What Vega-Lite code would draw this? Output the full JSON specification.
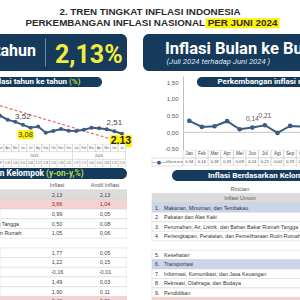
{
"$schema":"https://vega.github.io/schema/vega-lite/v6.json",
"padding":0,
"spacing":0,
"bounds":"full",
"config":{"view":{"stroke":null},"concat":{"spacing":0},"font":"Liberation Sans","locale":{"number":{"decimal":",","thousands":".","grouping":[3],"currency":["Rp",""],"minus":"-"}}},
"datasets":{
 "header":[{"line":"1","part":"title","text":"2. TREN TINGKAT INFLASI INDONESIA"},{"line":"2","part":"lead","text":"PERKEMBANGAN INFLASI NASIONAL"},{"line":"2","part":"date","text":"PER JUNI 2024"}],
 "kpiLeft":[{"part":"label","text":"Inflasi Tahun ke tahun"},{"part":"sep","text":""},{"part":"value","text":"2,13%"}],
 "kpiRight":[{"part":"title","text":"Inflasi Bulan ke Bulan"},{"part":"sub","text":"(Juli 2024 terhadap Juni 2024 )"}],
 "pills":[{"pill":"yoy","part":"main","text":"Perkembangan Inflasi tahun ke tahun"},{"pill":"yoy","part":"pct","text":"(%)"},{"pill":"grp","part":"main","text":"Inflasi Berdasarkan Kelompok"},{"pill":"grp","part":"pct","text":"(y-on-y,%)"},{"pill":"grpR","part":"main","text":"Inflasi Berdasarkan Kelompok Pengeluaran"},{"pill":"mtm","part":"main","text":"Perkembangan inflasi m-to-m"}],
 "yoy":[
  {"month":"2023-03","mon":"Mar","year":"2023","value":4.97},
  {"month":"2023-04","mon":"Apr","year":"2023","value":4.33},
  {"month":"2023-05","mon":"Mei","year":"2023","value":4.00},
  {"month":"2023-06","mon":"Jun","year":"2023","value":3.52},
  {"month":"2023-07","mon":"Jul","year":"2023","value":3.08},
  {"month":"2023-08","mon":"Agt","year":"2023","value":3.27},
  {"month":"2023-09","mon":"Sep","year":"2023","value":2.28},
  {"month":"2023-10","mon":"Okt","year":"2023","value":2.56},
  {"month":"2023-11","mon":"Nov","year":"2023","value":2.86},
  {"month":"2023-12","mon":"Des","year":"2023","value":2.61},
  {"month":"2024-01","mon":"Jan","year":"2024","value":2.57},
  {"month":"2024-02","mon":"Feb","year":"2024","value":2.75},
  {"month":"2024-03","mon":"Mar","year":"2024","value":3.05},
  {"month":"2024-04","mon":"Apr","year":"2024","value":3.00},
  {"month":"2024-05","mon":"Mei","year":"2024","value":2.84},
  {"month":"2024-06","mon":"Jun","year":"2024","value":2.51},
  {"month":"2024-07","mon":"Jul","year":"2024","value":2.13}],
 "trend":[{"month":"2023-03","value":6.55},{"month":"2024-07","value":0.76}],
 "mtm":[
  {"month":"Jan","value":0.34},{"month":"Feb","value":0.16},{"month":"Mar","value":0.18},{"month":"Apr","value":0.33},
  {"month":"Mei","value":0.09},{"month":"Jun","value":0.14},{"month":"Jul","value":0.21},{"month":"Agt","value":-0.02},
  {"month":"Sep","value":0.19},{"month":"Okt","value":0.17},{"month":"Nov","value":0.38},{"month":"Des","value":0.41}],
 "groups":[
  {"row":"umum","no":"","rincian":"Inflasi Umum","yoy":2.13,"andil":2.13},
  {"row":"g1","no":"1.","rincian":"Makanan, Minuman, dan Tembakau","yoy":3.66,"andil":1.04},
  {"row":"g2","no":"2.","rincian":"Pakaian dan Alas Kaki","yoy":0.99,"andil":0.05},
  {"row":"g3","no":"3.","rincian":"Perumahan, Air, Listrik, dan Bahan Bakar Rumah Tangga","yoy":0.50,"andil":0.08},
  {"row":"g4","no":"4.","rincian":"Perlengkapan, Peralatan, dan Pemeliharaan Rutin Rumah","yoy":1.05,"andil":0.06},
  {"row":"g5","no":"5.","rincian":"Kesehatan","yoy":1.77,"andil":0.05},
  {"row":"g6","no":"6.","rincian":"Transportasi","yoy":1.22,"andil":0.15},
  {"row":"g7","no":"7.","rincian":"Informasi, Komunikasi, dan Jasa Keuangan","yoy":-0.16,"andil":-0.01},
  {"row":"g8","no":"8.","rincian":"Rekreasi, Olahraga, dan Budaya","yoy":1.49,"andil":0.03},
  {"row":"g9","no":"9.","rincian":"Pendidikan","yoy":1.90,"andil":0.11},
  {"row":"g10","no":"10.","rincian":"Penyediaan Makanan dan Minuman/Restoran","yoy":2.46,"andil":0.21}],
 "cols":[{"col":"Rincian"},{"col":"Inflasi"},{"col":"Andil Inflasi"}],
 "legend":[{"part":"sym","text":"—●—"},{"part":"lbl","text":"Inflasi m-to-m"}],
 "box":[{"shape":"box"}]
},
"vconcat":[
 {
  "width":300,"height":30,
  "data":{"name":"header"},
  "layer":[
   {"transform":[{"filter":"datum.part === 'date'"}],
    "mark":{"type":"tick","orient":"horizontal","size":74,"thickness":10,"color":"#fff200","opacity":1},
    "encoding":{
     "x":{"field":"part","type":"nominal","scale":{"type":"point","domain":["lead","date"],"range":[205,242.5],"padding":0},"axis":null},
     "y":{"field":"line","type":"nominal","scale":{"type":"point","domain":["1","2"],"range":[11.5,23.3],"padding":0},"axis":null}}},
   {"transform":[{"filter":"datum.part === 'title'"}],
    "mark":{"type":"text","fontSize":9.8,"fontWeight":"bold","color":"#2b2b2b"},
    "encoding":{
     "y":{"field":"line","type":"nominal","scale":{"type":"point","domain":["1","2"],"range":[11.5,23.3],"padding":0},"axis":null},
     "text":{"field":"text"}}},
   {"transform":[{"filter":"datum.part === 'lead'"}],
    "mark":{"type":"text","align":"right","fontSize":9.8,"fontWeight":"bold","color":"#2b2b2b"},
    "encoding":{
     "x":{"field":"part","type":"nominal","scale":{"type":"point","domain":["lead","date"],"range":[205,242.5],"padding":0},"axis":null},
     "y":{"field":"line","type":"nominal","scale":{"type":"point","domain":["1","2"],"range":[11.5,23.3],"padding":0},"axis":null},
     "text":{"field":"text"}}},
   {"transform":[{"filter":"datum.part === 'date'"}],
    "mark":{"type":"text","align":"center","fontSize":9.8,"fontWeight":"bold","color":"#2b2b2b"},
    "encoding":{
     "x":{"field":"part","type":"nominal","scale":{"type":"point","domain":["lead","date"],"range":[205,242.5],"padding":0},"axis":null},
     "y":{"field":"line","type":"nominal","scale":{"type":"point","domain":["1","2"],"range":[11.5,23.3],"padding":0},"axis":null},
     "text":{"field":"text"}}}
  ]
 },
 {"hconcat":[
  {"vconcat":[
    {"width":143,"height":4,"data":{"values":[]},"mark":"point"},
    {"width":127,"height":37,
     "resolve":{"scale":{"x":"independent"}},
     "layer":[
      {"data":{"name":"box"},
       "mark":{"type":"rect","fill":"#163a5c","cornerRadius":6,"clip":true},
       "encoding":{"x":{"field":"shape","type":"nominal","scale":{"type":"band","domain":["box"],"range":[-10,127],"paddingInner":0,"paddingOuter":0},"axis":null}}},
      {"data":{"name":"kpiLeft"},"transform":[{"filter":"datum.part === 'label'"}],
       "mark":{"type":"text","align":"right","font":"Roboto","fontWeight":"bold","fontSize":16,"color":"#ffffff","dy":-2,"clip":true},
       "encoding":{"x":{"field":"part","type":"nominal","scale":{"type":"point","domain":["label","sep","value"],"range":[36,55],"padding":0},"axis":null},"text":{"field":"text"}}},
      {"data":{"name":"kpiLeft"},"transform":[{"filter":"datum.part === 'sep'"}],
       "mark":{"type":"tick","orient":"vertical","size":28,"thickness":1,"color":"#6d8aa6","opacity":1},
       "encoding":{"x":{"field":"part","type":"nominal","scale":{"type":"point","domain":["label","sep","value"],"range":[36,55],"padding":0},"axis":null}}},
      {"data":{"name":"kpiLeft"},"transform":[{"filter":"datum.part === 'value'"}],
       "mark":{"type":"text","align":"left","font":"Roboto","fontWeight":"bold","fontSize":25,"color":"#f0ee3c","dy":2},
       "encoding":{"x":{"field":"part","type":"nominal","scale":{"type":"point","domain":["label","sep","value"],"range":[36,55],"padding":0},"axis":null},"text":{"field":"text"}}}
     ]},
    {"width":10,"height":6,"data":{"values":[]},"mark":"point"},
    {"width":102,"height":10,
     "resolve":{"scale":{"x":"independent"}},
     "layer":[
      {"data":{"name":"box"},
       "mark":{"type":"rect","fill":"#163a5c","cornerRadius":5,"clip":true},
       "encoding":{"x":{"field":"shape","type":"nominal","scale":{"type":"band","domain":["box"],"range":[-10,102],"paddingInner":0,"paddingOuter":0},"axis":null}}},
      {"data":{"name":"pills"},"transform":[{"filter":"datum.pill === 'yoy' && datum.part === 'main'"}],
       "mark":{"type":"text","align":"right","font":"Roboto","fontWeight":"bold","fontSize":8,"color":"#ffffff","clip":true},
       "encoding":{"x":{"field":"part","type":"nominal","scale":{"type":"point","domain":["main","pct"],"range":[67,69],"padding":0},"axis":null},"text":{"field":"text"}}},
      {"data":{"name":"pills"},"transform":[{"filter":"datum.pill === 'yoy' && datum.part === 'pct'"}],
       "mark":{"type":"text","align":"left","font":"Roboto","fontWeight":"bold","fontSize":8,"color":"#b5dc4a"},
       "encoding":{"x":{"field":"part","type":"nominal","scale":{"type":"point","domain":["main","pct"],"range":[67,69],"padding":0},"axis":null},"text":{"field":"text"}}}
     ]},
    {"width":127,"height":57,
     "encoding":{
      "x":{"field":"month","type":"ordinal","scale":{"type":"band","domain":["2023-03","2023-04","2023-05","2023-06","2023-07","2023-08","2023-09","2023-10","2023-11","2023-12","2024-01","2024-02","2024-03","2024-04","2024-05","2024-06","2024-07"],"range":[-3.8,125.8],"paddingInner":0,"paddingOuter":0},"axis":null},
      "y":{"field":"value","type":"quantitative","scale":{"domain":[0.5,9.5],"nice":false,"zero":false},"axis":null}},
     "layer":[
      {"data":{"name":"trend"},"mark":{"type":"line","color":"#e06f6a","strokeWidth":1.2,"strokeDash":[3,2],"clip":true}},
      {"data":{"name":"yoy"},"mark":{"type":"line","color":"#3d5b83","strokeWidth":2,"clip":true}},
      {"data":{"name":"yoy"},"mark":{"type":"circle","color":"#3d5b83","size":16,"opacity":1,"clip":true}},
      {"data":{"name":"yoy"},"transform":[{"filter":"datum.month === '2023-07'"}],
       "mark":{"type":"tick","orient":"horizontal","size":16,"thickness":9,"color":"#fff200","opacity":1,"xOffset":-5,"yOffset":7}},
      {"data":{"name":"yoy"},"transform":[{"filter":"datum.month === '2024-07'"}],
       "mark":{"type":"tick","orient":"horizontal","size":22,"thickness":12,"color":"#fff200","opacity":1,"xOffset":-1,"yOffset":7.5}},
      {"data":{"name":"yoy"},"transform":[{"filter":"datum.month === '2023-06' || datum.month === '2024-06'"}],
       "mark":{"type":"text","fontSize":8,"color":"#444444","dy":-8},
       "encoding":{"text":{"field":"value","type":"quantitative","format":".2f"}}},
      {"data":{"name":"yoy"},"transform":[{"filter":"datum.month === '2023-07'"}],
       "mark":{"type":"text","fontSize":7.5,"color":"#333333","dy":7,"dx":-5},
       "encoding":{"text":{"field":"value","type":"quantitative","format":".2f"}}},
      {"data":{"name":"yoy"},"transform":[{"filter":"datum.month === '2024-07'"}],
       "mark":{"type":"text","fontSize":10.5,"fontWeight":"bold","color":"#222222","dy":7.5,"dx":-1},
       "encoding":{"text":{"field":"value","type":"quantitative","format":".2f"}}}
     ]},
    {"width":127,"height":23,
     "data":{"name":"yoy"},
     "encoding":{
      "x":{"field":"month","type":"ordinal","scale":{"type":"band","domain":["2023-03","2023-04","2023-05","2023-06","2023-07","2023-08","2023-09","2023-10","2023-11","2023-12","2024-01","2024-02","2024-03","2024-04","2024-05","2024-06","2024-07"],"range":[-3.8,125.8],"paddingInner":0,"paddingOuter":0},"axis":null}},
     "layer":[
      {"mark":{"type":"rect","fill":"#ffffff","stroke":"#b3b3b3","strokeWidth":0.4,"clip":true},
       "encoding":{"y":{"datum":"m","type":"nominal","scale":{"type":"band","domain":["m","y","v"],"paddingInner":0,"paddingOuter":0},"axis":null}}},
      {"mark":{"type":"rect","fill":"#ffffff","stroke":"#b3b3b3","strokeWidth":0.4,"clip":true},
       "encoding":{"y":{"datum":"v","type":"nominal","scale":{"type":"band","domain":["m","y","v"],"paddingInner":0,"paddingOuter":0},"axis":null}}},
      {"transform":[{"filter":"datum.month === '2024-01'"}],
       "mark":{"type":"tick","orient":"vertical","size":7.7,"thickness":0.4,"color":"#b3b3b3","opacity":1},
       "encoding":{"x":{"field":"month","type":"ordinal","bandPosition":0},"y":{"datum":"y","type":"nominal","scale":{"type":"band","domain":["m","y","v"],"paddingInner":0,"paddingOuter":0},"axis":null}}},
      {"transform":[{"filter":"datum.month === '2024-07'"}],
       "mark":{"type":"tick","orient":"vertical","size":7.7,"thickness":0.4,"color":"#b3b3b3","opacity":1},
       "encoding":{"x":{"field":"month","type":"ordinal","bandPosition":1},"y":{"datum":"y","type":"nominal","scale":{"type":"band","domain":["m","y","v"],"paddingInner":0,"paddingOuter":0},"axis":null}}},
      {"mark":{"type":"text","fontSize":2.8,"color":"#555555","clip":true},
       "encoding":{"y":{"datum":"m","type":"nominal","scale":{"type":"band","domain":["m","y","v"],"paddingInner":0,"paddingOuter":0},"axis":null},"text":{"field":"mon"}}},
      {"transform":[{"filter":"datum.month === '2023-07'"}],
       "mark":{"type":"text","fontSize":3.6,"color":"#555555"},
       "encoding":{"x":{"field":"month","type":"ordinal","bandPosition":1},"y":{"datum":"y","type":"nominal","scale":{"type":"band","domain":["m","y","v"],"paddingInner":0,"paddingOuter":0},"axis":null},"text":{"field":"year"}}},
      {"transform":[{"filter":"datum.month === '2024-04'"}],
       "mark":{"type":"text","fontSize":3.6,"color":"#555555"},
       "encoding":{"y":{"datum":"y","type":"nominal","scale":{"type":"band","domain":["m","y","v"],"paddingInner":0,"paddingOuter":0},"axis":null},"text":{"field":"year"}}},
      {"mark":{"type":"text","fontSize":2.6,"color":"#555555","clip":true},
       "encoding":{"y":{"datum":"v","type":"nominal","scale":{"type":"band","domain":["m","y","v"],"paddingInner":0,"paddingOuter":0},"axis":null},"text":{"field":"value","type":"quantitative","format":".2f"}}}
     ]},
    {"width":10,"height":1,"data":{"values":[]},"mark":"point"},
    {"width":127,"height":11,
     "resolve":{"scale":{"x":"independent"}},
     "layer":[
      {"data":{"name":"box"},
       "mark":{"type":"rect","fill":"#163a5c","cornerRadius":5.5,"clip":true},
       "encoding":{"x":{"field":"shape","type":"nominal","scale":{"type":"band","domain":["box"],"range":[-10,127],"paddingInner":0,"paddingOuter":0},"axis":null}}},
      {"data":{"name":"pills"},"transform":[{"filter":"datum.pill === 'grp' && datum.part === 'main'"}],
       "mark":{"type":"text","align":"right","font":"Roboto","fontWeight":"bold","fontSize":8.3,"color":"#ffffff","clip":true},
       "encoding":{"x":{"field":"part","type":"nominal","scale":{"type":"point","domain":["main","pct"],"range":[44,46],"padding":0},"axis":null},"text":{"field":"text"}}},
      {"data":{"name":"pills"},"transform":[{"filter":"datum.pill === 'grp' && datum.part === 'pct'"}],
       "mark":{"type":"text","align":"left","font":"Roboto","fontWeight":"bold","fontSize":8.3,"color":"#b5dc4a"},
       "encoding":{"x":{"field":"part","type":"nominal","scale":{"type":"point","domain":["main","pct"],"range":[44,46],"padding":0},"axis":null},"text":{"field":"text"}}}
     ]},
    {"width":10,"height":1,"data":{"values":[]},"mark":"point"},
    {"width":127,"height":120,
     "resolve":{"scale":{"x":"independent"}},
     "layer":[
      {"data":{"name":"groups"},
       "mark":{"type":"rect","stroke":"#d0d0d0","strokeWidth":0.5,"clip":true},
       "encoding":{
        "y":{"field":"row","type":"nominal","scale":{"type":"band","domain":["hdr","umum","g1","g2","g3","g4","g4b","g5","g6","g7","g8","g9","g10"],"range":[0,126.1],"paddingInner":0,"paddingOuter":0},"axis":null},
        "fill":{"condition":[{"test":"datum.row === 'umum'","value":"#dcdcdc"},{"test":"datum.row === 'g1' || datum.row === 'g10'","value":"#f6d3d3"}],"value":"#ffffff"}}},
      {"data":{"name":"groups"},"transform":[{"filter":"datum.row !== 'umum'"}],
       "mark":{"type":"text","align":"left","fontSize":5.25,"color":"#333333","clip":true},
       "encoding":{
        "y":{"field":"row","type":"nominal","scale":{"type":"band","domain":["hdr","umum","g1","g2","g3","g4","g4b","g5","g6","g7","g8","g9","g10"],"range":[0,126.1],"paddingInner":0,"paddingOuter":0},"axis":null},
        "x":{"datum":"Rincian","type":"nominal","scale":{"type":"point","domain":["Rincian"],"range":[-114,-114],"padding":0},"axis":null},
        "text":{"field":"rincian"}}},
      {"data":{"name":"cols"},"transform":[{"filter":"datum.col !== 'Rincian'"}],
       "mark":{"type":"text","fontSize":5.6,"color":"#555555"},
       "encoding":{
        "y":{"datum":"hdr","type":"nominal","scale":{"type":"band","domain":["hdr","umum","g1","g2","g3","g4","g4b","g5","g6","g7","g8","g9","g10"],"range":[0,126.1],"paddingInner":0,"paddingOuter":0},"axis":null},
        "x":{"field":"col","type":"nominal","scale":{"type":"point","domain":["Inflasi","Andil Inflasi"],"range":[57,105],"padding":0},"axis":null},
        "text":{"field":"col"}}},
      {"data":{"name":"groups"},
       "mark":{"type":"text","fontSize":5.5,"clip":true},
       "encoding":{
        "y":{"field":"row","type":"nominal","scale":{"type":"band","domain":["hdr","umum","g1","g2","g3","g4","g4b","g5","g6","g7","g8","g9","g10"],"range":[0,126.1],"paddingInner":0,"paddingOuter":0},"axis":null},
        "x":{"datum":"Inflasi","type":"nominal","scale":{"type":"point","domain":["Inflasi","Andil Inflasi"],"range":[57,105],"padding":0},"axis":null},
        "text":{"field":"yoy","type":"quantitative","format":".2f"},
        "color":{"condition":{"test":"datum.row === 'g1'","value":"#8b2525"},"value":"#444444"}}},
      {"data":{"name":"groups"},
       "mark":{"type":"text","fontSize":5.5,"clip":true},
       "encoding":{
        "y":{"field":"row","type":"nominal","scale":{"type":"band","domain":["hdr","umum","g1","g2","g3","g4","g4b","g5","g6","g7","g8","g9","g10"],"range":[0,126.1],"paddingInner":0,"paddingOuter":0},"axis":null},
        "x":{"datum":"Andil Inflasi","type":"nominal","scale":{"type":"point","domain":["Inflasi","Andil Inflasi"],"range":[57,105],"padding":0},"axis":null},
        "text":{"field":"andil","type":"quantitative","format":".2f"},
        "color":{"condition":{"test":"datum.row === 'g1'","value":"#8b2525"},"value":"#444444"}}}
     ]}
  ],"spacing":0,"bounds":"flush"},
  {"vconcat":[
    {"width":157,"height":4,"data":{"values":[]},"mark":"point"},
    {"width":157,"height":37,
     "resolve":{"scale":{"x":"independent"}},
     "layer":[
      {"data":{"name":"box"},
       "mark":{"type":"rect","fill":"#163a5c","cornerRadius":6,"clip":true},
       "encoding":{"x":{"field":"shape","type":"nominal","scale":{"type":"band","domain":["box"],"range":[0,170],"paddingInner":0,"paddingOuter":0},"axis":null}}},
      {"data":{"name":"kpiRight"},"transform":[{"filter":"datum.part === 'title'"}],
       "mark":{"type":"text","align":"left","font":"Roboto","fontWeight":"bold","fontSize":16.5,"color":"#ffffff","clip":true},
       "encoding":{
        "x":{"field":"part","type":"nominal","scale":{"type":"point","domain":["title","sub"],"range":[22,23.5],"padding":0},"axis":null},
        "y":{"field":"part","type":"nominal","scale":{"type":"point","domain":["title","sub"],"range":[15,28],"padding":0},"axis":null},
        "text":{"field":"text"}}},
      {"data":{"name":"kpiRight"},"transform":[{"filter":"datum.part === 'sub'"}],
       "mark":{"type":"text","align":"left","font":"Roboto","fontStyle":"italic","fontSize":7.7,"color":"#dfe6ef","clip":true},
       "encoding":{
        "x":{"field":"part","type":"nominal","scale":{"type":"point","domain":["title","sub"],"range":[22,23.5],"padding":0},"axis":null},
        "y":{"field":"part","type":"nominal","scale":{"type":"point","domain":["title","sub"],"range":[15,28],"padding":0},"axis":null},
        "text":{"field":"text"}}}
     ]},
    {"width":10,"height":5,"data":{"values":[]},"mark":"point"},
    {"width":157,"height":74,
     "layer":[
      {"data":{"name":"box"},
       "mark":{"type":"rule","color":"#c4c4c4","strokeWidth":1,"clip":true},
       "encoding":{
        "x":{"datum":"Jan","type":"ordinal","bandPosition":0,"scale":{"type":"band","domain":["Jan","Feb","Mar","Apr","Mei","Jun","Jul","Agt","Sep","Okt","Nov","Des"],"range":[40,191.2],"paddingInner":0,"paddingOuter":0},"axis":null},
        "x2":{"datum":"Des"},
        "y":{"datum":0,"type":"quantitative","scale":{"domain":[-0.53,1.68],"nice":false,"zero":false},"axis":{"values":[-0.5,0,0.5,1,1.5],"format":".2f","offset":-40,"ticks":false,"grid":false,"domain":true,"domainColor":"#bdbdbd","labelFont":"Liberation Sans","labelFontSize":6,"labelColor":"#555555","labelPadding":5,"labelFlush":false,"labelBound":false,"title":null}}}},
      {"data":{"name":"box"},
       "mark":{"type":"rule","color":"#163a5c","strokeWidth":10,"strokeCap":"round","clip":true},
       "encoding":{
        "x":{"datum":"Feb","type":"ordinal","scale":{"type":"band","domain":["Jan","Feb","Mar","Apr","Mei","Jun","Jul","Agt","Sep","Okt","Nov","Des"],"range":[40,191.2],"paddingInner":0,"paddingOuter":0},"axis":null},
        "x2":{"datum":"Des"},
        "y":{"datum":1.5,"type":"quantitative","scale":{"domain":[-0.53,1.68],"nice":false,"zero":false},"axis":{"values":[-0.5,0,0.5,1,1.5],"format":".2f","offset":-40,"ticks":false,"grid":false,"domain":true,"domainColor":"#bdbdbd","labelFont":"Liberation Sans","labelFontSize":6,"labelColor":"#555555","labelPadding":5,"labelFlush":false,"labelBound":false,"title":null}}}},
      {"data":{"name":"pills"},"transform":[{"filter":"datum.pill === 'mtm'"}],
       "mark":{"type":"text","align":"left","font":"Roboto","fontWeight":"bold","fontSize":8,"color":"#ffffff","dx":3,"clip":true},
       "encoding":{
        "x":{"datum":"Mar","type":"ordinal","scale":{"type":"band","domain":["Jan","Feb","Mar","Apr","Mei","Jun","Jul","Agt","Sep","Okt","Nov","Des"],"range":[40,191.2],"paddingInner":0,"paddingOuter":0},"axis":null},
        "y":{"datum":1.5,"type":"quantitative","scale":{"domain":[-0.53,1.68],"nice":false,"zero":false},"axis":{"values":[-0.5,0,0.5,1,1.5],"format":".2f","offset":-40,"ticks":false,"grid":false,"domain":true,"domainColor":"#bdbdbd","labelFont":"Liberation Sans","labelFontSize":6,"labelColor":"#555555","labelPadding":5,"labelFlush":false,"labelBound":false,"title":null}},
        "text":{"field":"text"}}},
      {"data":{"name":"mtm"},
       "encoding":{
        "x":{"field":"month","type":"ordinal","scale":{"type":"band","domain":["Jan","Feb","Mar","Apr","Mei","Jun","Jul","Agt","Sep","Okt","Nov","Des"],"range":[40,191.2],"paddingInner":0,"paddingOuter":0},"axis":null},
        "y":{"field":"value","type":"quantitative","scale":{"domain":[-0.53,1.68],"nice":false,"zero":false},"axis":{"values":[-0.5,0,0.5,1,1.5],"format":".2f","offset":-40,"ticks":false,"grid":false,"domain":true,"domainColor":"#bdbdbd","labelFont":"Liberation Sans","labelFontSize":6,"labelColor":"#555555","labelPadding":5,"labelFlush":false,"labelBound":false,"title":null}}},
       "layer":[
        {"mark":{"type":"line","color":"#3d5b83","strokeWidth":2,"clip":true}},
        {"mark":{"type":"circle","color":"#3d5b83","size":22,"opacity":1,"clip":true}},
        {"transform":[{"filter":"datum.month === 'Jun' || datum.month === 'Jul'"}],
         "mark":{"type":"text","fontSize":6.5,"color":"#555555","dy":-9},
         "encoding":{"text":{"field":"value","type":"quantitative","format":".2f"}}}
       ]}
     ]},
    {"width":157,"height":16,
     "resolve":{"scale":{"x":"independent"}},
     "layer":[
      {"data":{"name":"box"},
       "mark":{"type":"rect","fill":"#ffffff","stroke":"#b5b5b5","strokeWidth":0.4},
       "encoding":{
        "x":{"field":"shape","type":"nominal","scale":{"type":"band","domain":["box"],"range":[9,40],"paddingInner":0,"paddingOuter":0},"axis":null},
        "y":{"datum":"v","type":"nominal","scale":{"type":"band","domain":["m","v"],"paddingInner":0,"paddingOuter":0},"axis":null}}},
      {"data":{"name":"legend"},"transform":[{"filter":"datum.part === 'sym'"}],
       "mark":{"type":"text","fontSize":5,"color":"#3d5b83","font":"DejaVu Sans"},
       "encoding":{
        "x":{"field":"part","type":"nominal","scale":{"type":"point","domain":["sym","lbl"],"range":[16,23],"padding":0},"axis":null},
        "y":{"datum":"v","type":"nominal","scale":{"type":"band","domain":["m","v"],"paddingInner":0,"paddingOuter":0},"axis":null},
        "text":{"field":"text"}}},
      {"data":{"name":"legend"},"transform":[{"filter":"datum.part === 'lbl'"}],
       "mark":{"type":"text","align":"left","fontSize":2.8,"color":"#444444"},
       "encoding":{
        "x":{"field":"part","type":"nominal","scale":{"type":"point","domain":["sym","lbl"],"range":[16,23],"padding":0},"axis":null},
        "y":{"datum":"v","type":"nominal","scale":{"type":"band","domain":["m","v"],"paddingInner":0,"paddingOuter":0},"axis":null},
        "text":{"field":"text"}}},
      {"data":{"name":"mtm"},
       "mark":{"type":"rect","fill":"#ffffff","stroke":"#b5b5b5","strokeWidth":0.4,"clip":true},
       "encoding":{
        "x":{"field":"month","type":"ordinal","scale":{"type":"band","domain":["Jan","Feb","Mar","Apr","Mei","Jun","Jul","Agt","Sep","Okt","Nov","Des"],"range":[40,191.2],"paddingInner":0,"paddingOuter":0},"axis":null},
        "y":{"datum":"m","type":"nominal","scale":{"type":"band","domain":["m","v"],"paddingInner":0,"paddingOuter":0},"axis":null}}},
      {"data":{"name":"mtm"},
       "mark":{"type":"rect","fill":"#ffffff","stroke":"#b5b5b5","strokeWidth":0.4,"clip":true},
       "encoding":{
        "x":{"field":"month","type":"ordinal","scale":{"type":"band","domain":["Jan","Feb","Mar","Apr","Mei","Jun","Jul","Agt","Sep","Okt","Nov","Des"],"range":[40,191.2],"paddingInner":0,"paddingOuter":0},"axis":null},
        "y":{"datum":"v","type":"nominal","scale":{"type":"band","domain":["m","v"],"paddingInner":0,"paddingOuter":0},"axis":null}}},
      {"data":{"name":"mtm"},
       "mark":{"type":"text","fontSize":4.6,"color":"#444444","clip":true},
       "encoding":{
        "x":{"field":"month","type":"ordinal","scale":{"type":"band","domain":["Jan","Feb","Mar","Apr","Mei","Jun","Jul","Agt","Sep","Okt","Nov","Des"],"range":[40,191.2],"paddingInner":0,"paddingOuter":0},"axis":null},
        "y":{"datum":"m","type":"nominal","scale":{"type":"band","domain":["m","v"],"paddingInner":0,"paddingOuter":0},"axis":null},
        "text":{"field":"month"}}},
      {"data":{"name":"mtm"},
       "mark":{"type":"text","fontSize":4.2,"color":"#444444","clip":true},
       "encoding":{
        "x":{"field":"month","type":"ordinal","scale":{"type":"band","domain":["Jan","Feb","Mar","Apr","Mei","Jun","Jul","Agt","Sep","Okt","Nov","Des"],"range":[40,191.2],"paddingInner":0,"paddingOuter":0},"axis":null},
        "y":{"datum":"v","type":"nominal","scale":{"type":"band","domain":["m","v"],"paddingInner":0,"paddingOuter":0},"axis":null},
        "text":{"field":"value","type":"quantitative","format":".2f"}}}
     ]},
    {"width":10,"height":4,"data":{"values":[]},"mark":"point"},
    {"width":157,"height":11,
     "resolve":{"scale":{"x":"independent"}},
     "layer":[
      {"data":{"name":"box"},
       "mark":{"type":"rect","fill":"#163a5c","cornerRadius":5.5,"clip":true},
       "encoding":{"x":{"field":"shape","type":"nominal","scale":{"type":"band","domain":["box"],"range":[29,200],"paddingInner":0,"paddingOuter":0},"axis":null}}},
      {"data":{"name":"pills"},"transform":[{"filter":"datum.pill === 'grpR'"}],
       "mark":{"type":"text","align":"left","font":"Roboto","fontWeight":"bold","fontSize":8,"color":"#ffffff","clip":true},
       "encoding":{"x":{"field":"part","type":"nominal","scale":{"type":"point","domain":["main"],"range":[65,65],"padding":0},"axis":null},"text":{"field":"text"}}}
     ]},
    {"width":10,"height":3,"data":{"values":[]},"mark":"point"},
    {"width":157,"height":116,
     "resolve":{"scale":{"x":"independent"}},
     "layer":[
      {"data":{"name":"groups"},
       "mark":{"type":"rect","stroke":"#d0d0d0","strokeWidth":0.5,"clip":true},
       "encoding":{
        "x":{"datum":"tbl","type":"nominal","scale":{"type":"band","domain":["tbl"],"range":[9,160],"paddingInner":0,"paddingOuter":0},"axis":null},
        "y":{"field":"row","type":"nominal","scale":{"type":"band","domain":["hdr","umum","g1","g2","g3","g4","g4b","g5","g6","g7","g8","g9","g10"],"range":[0,122.85],"paddingInner":0,"paddingOuter":0},"axis":null},
        "fill":{"condition":[{"test":"datum.row === 'umum'","value":"#dcdcdc"},{"test":"datum.row === 'g1' || datum.row === 'g6'","value":"#c9d5ea"},{"test":"datum.row === 'g10'","value":"#f6d3d3"}],"value":"#ffffff"}}},
      {"data":{"name":"cols"},"transform":[{"filter":"datum.col === 'Rincian'"}],
       "mark":{"type":"text","fontSize":5.6,"color":"#555555"},
       "encoding":{
        "y":{"datum":"hdr","type":"nominal","scale":{"type":"band","domain":["hdr","umum","g1","g2","g3","g4","g4b","g5","g6","g7","g8","g9","g10"],"range":[0,122.85],"paddingInner":0,"paddingOuter":0},"axis":null},
        "x":{"datum":"center","type":"nominal","scale":{"type":"point","domain":["center"],"range":[97,97],"padding":0},"axis":null},
        "text":{"field":"col"}}},
      {"data":{"name":"groups"},"transform":[{"filter":"datum.row === 'umum'"}],
       "mark":{"type":"text","fontSize":5.4,"color":"#555555"},
       "encoding":{
        "y":{"field":"row","type":"nominal","scale":{"type":"band","domain":["hdr","umum","g1","g2","g3","g4","g4b","g5","g6","g7","g8","g9","g10"],"range":[0,122.85],"paddingInner":0,"paddingOuter":0},"axis":null},
        "x":{"datum":"center","type":"nominal","scale":{"type":"point","domain":["center"],"range":[97,97],"padding":0},"axis":null},
        "text":{"field":"rincian"}}},
      {"data":{"name":"groups"},"transform":[{"filter":"datum.row !== 'umum'"}],
       "mark":{"type":"text","align":"left","fontSize":5.3,"color":"#333333","clip":true},
       "encoding":{
        "y":{"field":"row","type":"nominal","scale":{"type":"band","domain":["hdr","umum","g1","g2","g3","g4","g4b","g5","g6","g7","g8","g9","g10"],"range":[0,122.85],"paddingInner":0,"paddingOuter":0},"axis":null},
        "x":{"datum":"no","type":"nominal","scale":{"type":"point","domain":["no","rincian"],"range":[12,21],"padding":0},"axis":null},
        "text":{"field":"no"}}},
      {"data":{"name":"groups"},"transform":[{"filter":"datum.row !== 'umum'"}],
       "mark":{"type":"text","align":"left","fontSize":5.3,"color":"#333333","clip":true},
       "encoding":{
        "y":{"field":"row","type":"nominal","scale":{"type":"band","domain":["hdr","umum","g1","g2","g3","g4","g4b","g5","g6","g7","g8","g9","g10"],"range":[0,122.85],"paddingInner":0,"paddingOuter":0},"axis":null},
        "x":{"datum":"rincian","type":"nominal","scale":{"type":"point","domain":["no","rincian"],"range":[12,21],"padding":0},"axis":null},
        "text":{"field":"rincian"}}}
     ]}
  ],"spacing":0,"bounds":"flush"}
 ],"spacing":0,"bounds":"full"}
]
}
